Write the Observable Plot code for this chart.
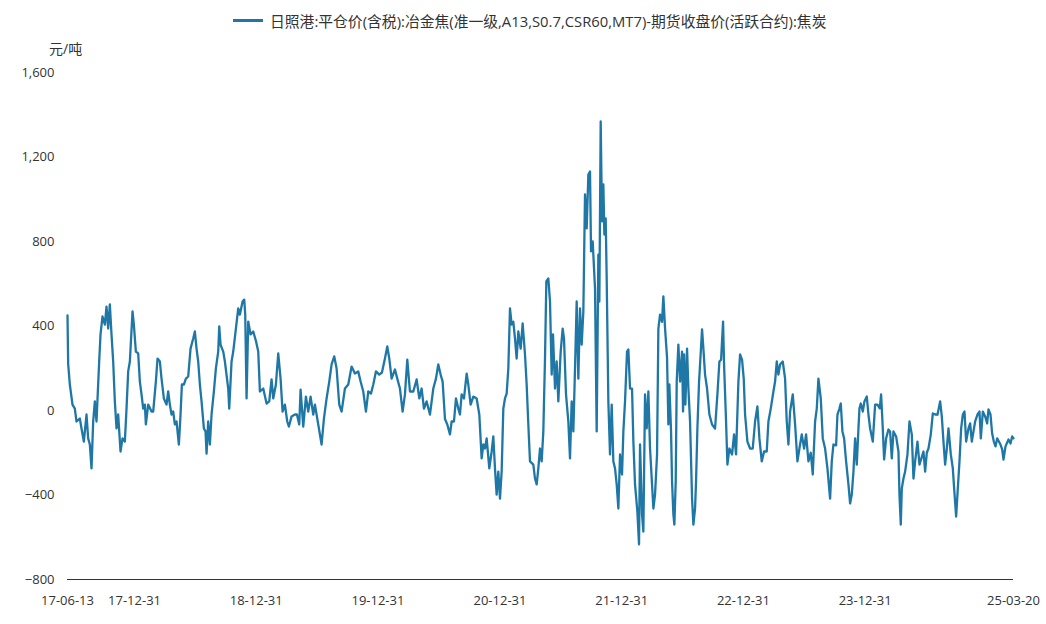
<!DOCTYPE html>
<html>
<head>
<meta charset="utf-8">
<script src="https://cdn.jsdelivr.net/npm/d3@7"></script>
<script src="https://cdn.jsdelivr.net/npm/@observablehq/plot@0.6"></script>
<style>
  html, body { margin: 0; padding: 0; background: #fff; }
  #wrap { position: relative; width: 1046px; height: 624px; font-family: "Open Sans", "Noto Sans CJK SC", sans-serif; color: #333; }
  #legend { position: absolute; top: 10px; left: 233px; height: 20px; display: flex; align-items: center; font-size: 14.8px; white-space: nowrap; z-index: 2; }
  #legend .sw { width: 30px; height: 3px; margin-right: 7px; }
  #unit { position: absolute; top: 38px; left: 49px; font-size: 14px; z-index: 2; }
  #chart { position: absolute; top: 36px; left: 0; z-index: 1; }
</style>
</head>
<body>
<div id="wrap">
  <div id="chart"></div>
  <div id="legend"><span class="sw"></span><span class="lt"></span></div>
  <div id="unit"></div>
</div>
<script>
const seriesName = "日照港:平仓价(含税):冶金焦(准一级,A13,S0.7,CSR60,MT7)-期货收盘价(活跃合约):焦炭";
const unitLabel = "元/吨";
const lineColor = "#1f77a6";

// Basis values (元/吨), [month-day, value]
const y2017 = [["06-13",450],["06-15",220],["06-20",123],["06-28",28],["07-05",9],["07-10",-52],["07-20",-38],["07-25",-85],["08-01",-147],["08-09",-19],["08-14",-132],["08-19",-161],["08-24",-274],["08-29",-52],["09-03",43],["09-08",-52],["09-16",232],["09-20",360],["09-26",445],["10-03",407],["10-08",492],["10-13",388],["10-18",502],["10-23",360],["10-28",232],["11-02",43],["11-07",-85],["11-12",-19],["11-19",-194],["11-25",-132],["12-02",-147],["12-07",9],["12-12",185],["12-17",232],["12-25",469],["12-29",407]];
const y2018 = [["01-04",279],["01-11",270],["01-16",137],["01-21",76],["01-26",9],["01-31",28],["02-03",-66],["02-10",28],["02-20",-5],["02-25",-5],["03-05",137],["03-10",246],["03-17",232],["03-22",151],["03-29",57],["04-06",28],["04-11",90],["04-16",28],["04-21",-19],["04-26",-5],["05-01",-66],["05-06",-52],["05-13",-161],["05-18",-19],["05-22",123],["05-28",123],["06-03",151],["06-10",161],["06-17",293],["06-25",341],["06-30",374],["07-05",293],["07-10",232],["07-15",123],["07-20",43],["07-27",-85],["08-01",-99],["08-04",-204],["08-09",-52],["08-14",-161],["08-19",-19],["08-26",90],["09-01",199],["09-08",279],["09-11",398],["09-15",312],["09-23",279],["09-28",232],["10-08",104],["10-11",9],["10-18",232],["10-23",279],["10-31",388],["11-07",483],["11-12",454],["11-20",516],["11-25",525],["11-28",454],["12-02",57],["12-07",421],["12-14",360],["12-22",374],["12-30",330]];
const y2019 = [["01-06",279],["01-11",90],["01-21",104],["01-31",33],["02-08",43],["02-15",147],["02-20",57],["02-28",123],["03-07",270],["03-14",151],["03-20",-5],["03-27",28],["04-03",-52],["04-08",-76],["04-16",-28],["04-26",-19],["05-02",-19],["05-09",-66],["05-13",99],["05-21",-76],["05-29",66],["06-05",-5],["06-12",66],["06-20",-19],["06-25",28],["07-05",-66],["07-15",-161],["07-22",-38],["07-30",57],["08-07",137],["08-14",218],["08-22",256],["08-29",199],["09-06",28],["09-13",-5],["09-23",104],["10-03",123],["10-13",208],["10-23",175],["11-02",185],["11-09",137],["11-17",90],["11-25",-5],["12-02",90],["12-10",80],["12-17",123],["12-25",185]];
const y2020 = [["01-04",170],["01-12",180],["01-21",246],["01-28",303],["02-03",246],["02-10",151],["02-20",194],["02-27",151],["03-06",104],["03-14",-5],["03-21",76],["03-28",241],["04-05",90],["04-15",90],["04-25",147],["05-03",57],["05-10",104],["05-17",9],["05-25",43],["06-04",-19],["06-14",104],["06-22",151],["06-29",218],["07-06",170],["07-12",137],["07-19",-40],["07-26",-66],["08-03",-113],["08-08",-52],["08-15",-52],["08-21",57],["08-28",9],["09-02",-19],["09-07",76],["09-14",57],["09-22",175],["09-27",123],["10-04",28],["10-12",66],["10-22",57],["10-30",-19],["11-06",-227],["11-11",-161],["11-16",-180],["11-21",-132],["11-29",-274],["12-06",-194],["12-11",-123],["12-16",-274],["12-21",-398],["12-26",-289],["12-31",-417]];
const y2021 = [["01-05",-289],["01-10",9],["01-15",57],["01-20",80],["01-25",199],["01-30",483],["02-04",407],["02-09",420],["02-14",341],["02-19",246],["02-24",374],["03-03",293],["03-09",412],["03-16",265],["03-21",123],["03-26",-66],["03-31",-241],["04-10",-256],["04-15",-322],["04-20",-350],["04-25",-274],["04-30",-180],["05-05",-241],["05-10",-99],["05-12",43],["05-15",246],["05-19",611],["05-25",625],["05-30",516],["06-04",170],["06-08",360],["06-14",104],["06-19",232],["06-24",43],["07-01",279],["07-07",388],["07-11",341],["07-17",76],["07-24",-52],["07-29",-227],["08-03",43],["08-08",-99],["08-13",199],["08-18",516],["08-23",151],["08-28",483],["09-02",312],["09-07",469],["09-12",1023],["09-17",862],["09-22",1117],["09-27",1131],["09-30",753],["10-05",800],["10-12",578],["10-17",-99],["10-22",738],["10-25",516],["10-29",1368],["11-02",895],["11-06",1070],["11-09",833],["11-13",909],["11-16",625],["11-21",43],["11-26",-208],["12-01",28],["12-06",-241],["12-11",-274],["12-16",-350],["12-21",-464],["12-26",-208]];
const y2022 = [["01-01",-303],["01-05",-99],["01-10",43],["01-16",279],["01-20",289],["01-25",104],["01-31",104],["02-04",-147],["02-09",-350],["02-16",-478],["02-21",-634],["02-24",-161],["03-02",-492],["03-06",-573],["03-11",76],["03-16",-85],["03-21",90],["03-26",-180],["04-01",-350],["04-05",-464],["04-10",-398],["04-16",-208],["04-20",388],["04-25",454],["05-01",420],["05-05",540],["05-10",390],["05-16",250],["05-20",-66],["05-23",123],["05-28",-99],["05-31",-336],["06-04",-492],["06-07",-540],["06-11",-336],["06-14",137],["06-19",312],["06-24",137],["06-30",279],["07-03",-5],["07-06",265],["07-10",28],["07-15",293],["07-19",104],["07-24",-52],["07-30",-417],["08-03",-540],["08-08",-464],["08-11",-336],["08-15",-85],["08-20",137],["08-23",218],["08-29",384],["09-02",293],["09-07",170],["09-13",104],["09-20",-19],["09-28",-66],["10-07",-85],["10-14",76],["10-20",232],["10-25",240],["10-31",421],["11-03",218],["11-09",-52],["11-13",-256],["11-19",-180],["11-27",-208],["12-03",-113],["12-09",-208],["12-16",137],["12-21",265],["12-27",240]];
const y2023 = [["01-01",151],["01-05",-19],["01-12",-147],["01-20",-180],["01-28",-180],["02-04",-52],["02-11",19],["02-17",-132],["02-24",-241],["03-03",-194],["03-11",-194],["03-16",-52],["03-23",9],["03-31",90],["04-05",137],["04-10",232],["04-15",170],["04-20",218],["04-28",232],["05-05",151],["05-10",-52],["05-15",-161],["05-20",-5],["05-28",76],["06-04",-66],["06-11",-241],["06-17",-180],["06-24",-113],["07-01",-180],["07-07",-113],["07-14",-241],["07-21",-200],["07-27",-303],["08-03",-52],["08-08",9],["08-13",151],["08-20",57],["08-26",-132],["09-02",-180],["09-09",-274],["09-17",-417],["09-22",-241],["09-27",-161],["10-05",-165],["10-09",-19],["10-15",9],["10-19",33],["10-24",-99],["10-29",-132],["11-04",-241],["11-11",-350],["11-16",-440],["11-21",-398],["11-26",-289],["12-01",-132],["12-06",-256],["12-11",-85],["12-14",9],["12-18",33],["12-24",-5],["12-29",43]];
const y2024 = [["01-05",66],["01-10",-19],["01-15",-85],["01-23",-147],["01-30",28],["02-06",28],["02-13",10],["02-17",76],["02-21",-52],["02-26",-232],["03-03",-132],["03-10",-90],["03-15",-100],["03-20",-227],["03-25",-99],["04-02",-123],["04-09",-194],["04-12",-398],["04-16",-540],["04-19",-369],["04-24",-322],["04-29",-289],["05-06",-208],["05-12",-52],["05-19",-113],["05-24",-322],["05-29",-241],["06-05",-147],["06-11",-256],["06-18",-220],["06-23",-194],["06-28",-289],["07-03",-200],["07-08",-180],["07-15",-113],["07-21",-14],["07-28",-19],["08-04",-20],["08-12",43],["08-17",-28],["08-22",-147],["08-27",-256],["09-01",-180],["09-06",-85],["09-13",-208],["09-19",-274],["09-23",-369],["09-29",-502],["10-04",-369],["10-09",-241],["10-14",-85],["10-19",-19],["10-24",-5],["10-29",-147],["11-05",-85],["11-10",-61],["11-15",-147],["11-20",-99],["11-25",-52],["12-02",-19],["12-08",-5],["12-12",-132],["12-18",-5],["12-25",-28],["12-31",-61]];
const y2025 = [["01-04",5],["01-10",-19],["01-15",-109],["01-20",-147],["01-25",-170],["01-30",-132],["02-09",-161],["02-14",-184],["02-18",-232],["02-24",-170],["03-05",-137],["03-11",-156],["03-16",-123],["03-20",-132]];

const yTicks = [-800, -400, 0, 400, 800, 1200, 1600];
const xTickLabels = ["2017-06-13", "2017-12-31", "2018-12-31", "2019-12-31", "2020-12-31", "2021-12-31", "2022-12-31", "2023-12-31", "2025-03-20"];

const years = {2017: y2017, 2018: y2018, 2019: y2019, 2020: y2020, 2021: y2021, 2022: y2022, 2023: y2023, 2024: y2024, 2025: y2025};
const data = [];
for (const [yr, rows] of Object.entries(years)) {
  for (const [md, v] of rows) data.push({date: new Date(`${yr}-${md}T00:00:00Z`), value: v});
}
data.sort((a, b) => a.date - b.date);
const xTicks = xTickLabels.map(s => new Date(s + "T00:00:00Z"));

document.querySelector("#legend .sw").style.background = lineColor;
document.querySelector("#legend .lt").textContent = seriesName;
document.getElementById("unit").textContent = unitLabel;

const chart = Plot.plot({
  width: 1046,
  height: 588,
  marginTop: 36,
  marginLeft: 67,
  marginRight: 33,
  marginBottom: 45,
  style: {fontFamily: '"Open Sans", "Noto Sans CJK SC", sans-serif', fontSize: "13px", color: "#333", background: "transparent"},
  x: {type: "utc", domain: [xTicks[0], xTicks[xTicks.length - 1]], ticks: xTicks, tickFormat: d3.utcFormat("%y-%m-%d"), tickSize: 0, tickPadding: 16, label: null},
  y: {domain: [-800, 1600], ticks: yTicks, tickFormat: d3.format(","), tickSize: 0, tickPadding: 13, label: null},
  marks: [
    Plot.ruleY([-800], {stroke: "#333", strokeWidth: 1}),
    Plot.lineY(data, {x: "date", y: "value", stroke: lineColor, strokeWidth: 2.3})
  ]
});
document.getElementById("chart").appendChild(chart);
</script>
</body>
</html>
